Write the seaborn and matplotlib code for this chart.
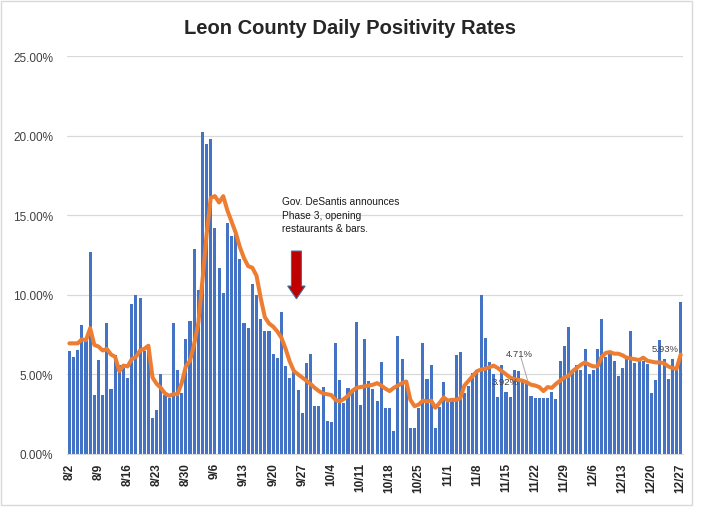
import numpy as np
import pandas as pd
import matplotlib
matplotlib.use('Agg')
import matplotlib.pyplot as plt
from matplotlib.patches import FancyArrow, Rectangle
from matplotlib.ticker import FuncFormatter
import seaborn as sns

# daily positivity rate (%), 8/2 .. 12/27
daily_rate = [
    6.44, 6.1, 6.5, 8.13, 7.1, 12.7, 3.7, 5.9, 3.7, 8.25,
    4.1, 6.2, 5.6, 5.4, 4.8, 9.45, 10.0, 9.8, 6.45, 6.6,
    2.25, 2.74, 5.0, 3.7, 3.5, 8.25, 5.25, 3.8, 7.2, 8.35,
    12.9, 10.3, 20.2, 19.5, 19.8, 14.2, 11.7, 10.1, 14.5, 13.7,
    13.9, 12.25, 8.23, 7.9, 10.7, 10.0, 8.46, 7.7, 7.7, 6.27,
    6.0, 8.95, 5.5, 4.74, 5.2, 4.0, 2.57, 5.7, 6.27, 3.0,
    3.03, 4.2, 2.08, 2.0, 6.95, 4.67, 3.2, 4.17, 4.08, 8.3,
    3.1, 7.24, 4.6, 4.06, 3.35, 5.8, 2.9, 2.9, 1.43, 7.4,
    5.94, 4.3, 1.6, 1.6, 2.9, 7.0, 4.7, 5.6, 1.6, 2.95,
    4.5, 3.24, 3.3, 6.2, 6.4, 3.8, 4.25, 5.1, 5.26, 10.0,
    7.28, 5.77, 5.05, 3.56, 5.6, 3.9, 3.6, 5.3, 5.24, 4.63,
    4.46, 3.66, 3.5, 3.5, 3.5, 3.5, 3.9, 3.45, 5.85, 6.8,
    8.0, 5.24, 5.6, 5.3, 6.57, 5.05, 5.3, 6.57, 8.48, 6.1,
    6.3, 5.85, 4.9, 5.43, 6.0, 7.7, 5.73, 5.83, 5.87, 5.66,
    3.83, 4.63, 7.16, 5.94, 4.7, 5.94, 5.4, 9.56,
]

# orange trend line (%), same days
trend_rate = [
    6.95, 6.95, 6.95, 7.2, 7.15, 7.9, 6.85, 6.75, 6.5, 6.6,
    6.25, 6.1, 5.2, 5.55, 5.5, 5.95, 6.1, 6.5, 6.6, 6.8,
    4.8, 4.4, 4.15, 3.8, 3.65, 3.75, 3.75, 4.45, 5.5, 5.85,
    6.9, 8.2, 10.9, 13.8, 16.1, 16.2, 15.8, 16.2, 15.3, 14.6,
    13.9, 13.0, 12.3, 11.8, 11.7, 11.2, 9.8, 8.6, 8.2, 8.0,
    7.7, 7.3, 6.6, 5.8, 5.2, 5.0, 4.8, 4.6, 4.4, 4.15,
    3.95, 3.8, 3.75, 3.7, 3.4, 3.3, 3.45, 3.65, 3.95, 4.15,
    4.2, 4.25, 4.3, 4.35, 4.45, 4.3, 4.1, 3.95, 4.15, 4.3,
    4.45, 4.55, 3.4, 3.0, 3.1, 3.35, 3.3, 3.35, 2.9, 3.2,
    3.55, 3.35, 3.4, 3.4, 3.5, 4.3, 4.6, 4.9, 5.2, 5.3,
    5.35, 5.45, 5.55, 5.4, 5.2, 5.0, 4.8, 4.7, 4.65, 4.6,
    4.5, 4.35, 4.3, 4.2, 3.95, 4.2, 4.15, 4.4, 4.6, 4.8,
    4.9, 5.2, 5.4, 5.6, 5.75, 5.6, 5.5, 5.5, 6.1, 6.35,
    6.4, 6.3, 6.3, 6.2, 6.05, 6.0, 5.95, 5.9, 6.05, 5.85,
    5.8, 5.75, 5.75, 5.7, 5.5, 5.4, 5.35, 6.25,
]

tick_labels = ['8/2', '8/9', '8/16', '8/23', '8/30', '9/6', '9/13', '9/20',
               '9/27', '10/4', '10/11', '10/18', '10/25', '11/1', '11/8',
               '11/15', '11/22', '11/29', '12/6', '12/13', '12/20', '12/27']

dates = pd.date_range('2020-08-02', '2020-12-27', freq='D')
df = pd.DataFrame({'date': [f'{d.month}/{d.day}' for d in dates],
                   'rate': daily_rate, 'trend': trend_rate})
df['pos'] = np.arange(len(df))

sns.set_style('white')
plt.rcParams['font.family'] = ['Liberation Sans', 'DejaVu Sans']

fig = plt.figure(figsize=(7.01, 5.10), dpi=100)
ax = fig.add_axes([0.096, 0.108, 0.878, 0.780])

sns.barplot(data=df, x='date', y='rate', color='#4472C4', saturation=1,
            width=0.74, linewidth=0, ax=ax, zorder=2)
for p in ax.patches:
    p.set_antialiased(False)
ax.plot(df['pos'], df['trend'], color='#ED7D31', lw=2.9, zorder=3,
        solid_joinstyle='round', solid_capstyle='round')

ax.set_xlim(-0.5, len(df) - 0.5)
ax.set_ylim(0, 25)
ax.set_yticks([0, 5, 10, 15, 20, 25])
ax.yaxis.set_major_formatter(FuncFormatter(lambda v, p: f'{v:.2f}%'))
ax.grid(axis='y', color='#D9D9D9', lw=0.9, zorder=0)
ax.set_axisbelow(True)

tick_pos = [df.index[df['date'] == t][0] for t in tick_labels]
ax.set_xticks(tick_pos)
ax.set_xticklabels(tick_labels, rotation=90, fontsize=8.5, fontweight='bold')
ax.tick_params(axis='y', labelsize=8.5, labelcolor='#404040', length=0, pad=10)
ax.tick_params(axis='x', length=0, pad=6)
ax.set_xlabel('')
ax.set_ylabel('')
for s in ['top', 'right', 'left']:
    ax.spines[s].set_visible(False)
ax.spines['bottom'].set_color('#D9D9D9')

# annotation + arrow
ax.text(51.2, 16.2, 'Gov. DeSantis announces\nPhase 3, opening\nrestaurants & bars.',
        fontsize=7.3, va='top', ha='left', linespacing=1.45, color='#1a1a1a')
ax.add_patch(FancyArrow(54.6, 12.75, 0, -3.0, width=2.4, head_width=4.2,
                        head_length=0.8, length_includes_head=True,
                        fc='#C00000', ec='#41719C', lw=0.8, zorder=5))

# data labels on the trend line
ax.text(108.3, 6.3, '4.71%', fontsize=6.8, color='#404040', ha='center', va='center')
ax.plot([108.6, 110.2], [6.05, 4.6], color='#A6A6A6', lw=0.7, zorder=4)
ax.text(104.9, 4.55, '3.92%', fontsize=6.8, color='#404040', ha='center', va='center', zorder=4)
ax.text(143.2, 6.6, '5.93%', fontsize=6.8, color='#404040', ha='center', va='center', zorder=4)

fig.text(0.499, 0.945, 'Leon County Daily Positivity Rates', ha='center', va='center',
         fontsize=14.5, fontweight='bold')

fig.patches.append(Rectangle((0.002, 0.008), 0.985, 0.988, transform=fig.transFigure,
                             fill=False, ec='#D9D9D9', lw=1))

fig.savefig('out.png', dpi=100)
